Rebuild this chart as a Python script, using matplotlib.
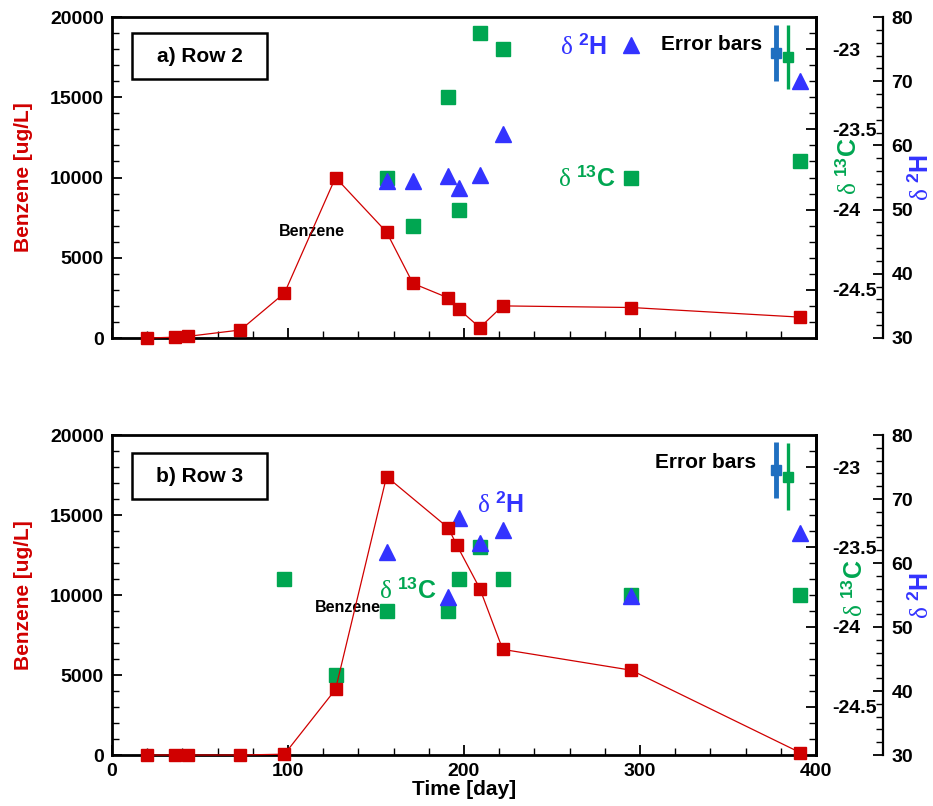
import matplotlib
matplotlib.use("Agg")
import matplotlib.pyplot as plt
from matplotlib.patches import Rectangle
from matplotlib.ticker import MultipleLocator, FormatStrFormatter

plt.rcParams['font.family'] = ['Liberation Sans', 'DejaVu Sans']
plt.rcParams['font.weight'] = 'bold'
plt.rcParams['axes.labelweight'] = 'bold'
plt.rcParams['axes.unicode_minus'] = False
plt.rcParams['mathtext.fontset'] = 'custom'
plt.rcParams['mathtext.rm'] = 'Liberation Serif:weight=normal'
plt.rcParams['mathtext.it'] = 'Liberation Serif:italic:weight=normal'
plt.rcParams['mathtext.bf'] = 'Liberation Sans:weight=bold'

# panel a) Row 2
days_benz_a = [20, 36, 43, 73, 98, 127, 156, 171, 191, 197, 209, 222, 295, 391]
benz_a = [0, 50, 100, 500, 2800, 10000, 6600, 3400, 2500, 1800, 650, 2000, 1900, 1300]
days_iso_a = [156, 171, 191, 197, 209, 222, 295, 391]
c13_a = [-23.8, -24.1, -23.3, -24.0, -22.9, -23.0, -23.8, -23.7]
h2_a = [54.5, 54.5, 55.2, 53.4, 55.4, 61.8, 75.6, 70.0]

# panel b) Row 3
days_benz_b = [20, 36, 43, 73, 98, 127, 156, 191, 196, 209, 222, 295, 391]
benz_b = [0, 0, 0, 0, 50, 4100, 17400, 14200, 13100, 10400, 6600, 5300, 150]
days_c13_b = [98, 127, 156, 191, 197, 209, 222, 295, 391]
c13_b = [-23.7, -24.3, -23.9, -23.9, -23.7, -23.5, -23.7, -23.8, -23.8]
days_h2_b = [156, 191, 197, 209, 222, 295, 391]
h2_b = [61.7, 54.7, 67.0, 63.1, 65.2, 54.8, 64.7]

# error bar glyphs: day, centre, half-width
err_day_h2, err_day_c13 = 377, 384
err_h2_a, err_h2_size_a = 74.4, 4.3
err_c13_a, err_c13_size_a = -23.05, 0.2
err_h2_b, err_h2_size_b = 74.5, 4.4
err_c13_b, err_c13_size_b = -23.06, 0.21

RED = '#d00000'
GREEN = '#00a651'
BLUE = '#3333ff'
EBLUE = '#1f6fc0'

W, H = 933, 806
fig = plt.figure(figsize=(W / 100, H / 100), dpi=100)

lbl_h2 = r'$\mathrm{\delta}\ {}^{\mathbf{2}}\mathbf{H}$'
lbl_c13 = r'$\mathrm{\delta}\ {}^{\mathbf{13}}\mathbf{C}$'


def make_panel(top, bottom, days_b, benz, days_c, c13, days_h, h2,
               eh2, eh2s, ec13, ec13s, title, box_y, texts, show_x):
    left, right = 112, 816
    ax = fig.add_axes([left / W, 1 - bottom / H, (right - left) / W, (bottom - top) / H])
    axc = ax.twinx()
    axh = ax.twinx()
    axh.spines['right'].set_position(('axes', (883 - left) / (right - left)))
    for s in ['left', 'top', 'bottom']:
        axh.spines[s].set_visible(False)
        axc.spines[s].set_visible(False)
    for s in ax.spines.values():
        s.set_linewidth(2)
    axc.spines['right'].set_linewidth(2)
    axh.spines['right'].set_linewidth(1.6)

    ax.set_xlim(0, 400)
    ax.set_ylim(0, 20000)
    axc.set_ylim(-24.8, -22.8)
    axh.set_ylim(30, 80)

    ax.xaxis.set_major_locator(MultipleLocator(100))
    ax.xaxis.set_minor_locator(MultipleLocator(20))
    ax.yaxis.set_major_locator(MultipleLocator(5000))
    ax.yaxis.set_minor_locator(MultipleLocator(1000))
    axc.yaxis.set_major_locator(MultipleLocator(0.5))
    axc.yaxis.set_minor_locator(MultipleLocator(0.1))
    axc.yaxis.set_major_formatter(FormatStrFormatter('%g'))
    axh.yaxis.set_major_locator(MultipleLocator(10))
    axh.yaxis.set_minor_locator(MultipleLocator(2))

    ax.tick_params(axis='both', which='major', direction='in', length=7, width=1.3,
                   labelsize=14, top=False, right=False, pad=6)
    ax.tick_params(axis='both', which='minor', direction='in', length=5, width=1,
                   top=False, right=False)
    ax.tick_params(axis='x', labelbottom=show_x, pad=6)
    for a in (axc, axh):
        a.tick_params(axis='y', which='major', direction='in', length=7, width=1.3,
                      labelsize=14, pad=6)
        a.tick_params(axis='y', which='minor', direction='in', length=5, width=1)
    axc.tick_params(axis='y', which='major', pad=12)

    ax.set_ylabel('Benzene [ug/L]', color=RED, fontsize=15)
    ax.yaxis.set_label_coords(-0.112, 0.5)

    # isotope markers
    axc.plot(days_c, c13, ls='none', marker='s', ms=10, color=GREEN, clip_on=False)
    axh.plot(days_h, h2, ls='none', marker='^', ms=12, color=BLUE, clip_on=False)
    # benzene line
    ax.plot(days_b, benz, '-', color=RED, lw=0.9, marker='s', ms=8, clip_on=False,
            zorder=5)
    ax.set_zorder(axh.get_zorder() + 1)
    ax.patch.set_visible(False)

    # error bar glyphs
    axh.errorbar([err_day_h2], [eh2], yerr=[eh2s], fmt='s', ms=7.5, color=EBLUE,
                 elinewidth=3.5, capsize=0)
    axc.errorbar([err_day_c13], [ec13], yerr=[ec13s], fmt='s', ms=7.5, color=GREEN,
                 elinewidth=2.4, capsize=0)

    # title box
    y0, y1 = box_y
    ax.add_patch(Rectangle(((132 - left) / 704, (bottom - y1) / (bottom - top)),
                           135 / 704, (y1 - y0) / (bottom - top),
                           transform=ax.transAxes, fill=False, lw=1.8, ec='black',
                           clip_on=False))
    ax.text((200 - left) / 704, (bottom - (y0 + y1) / 2) / (bottom - top), title,
            transform=ax.transAxes, ha='center', va='center', fontsize=15)

    def fx(x):
        return (x - left) / 704

    def fy(y):
        return (bottom - y) / (bottom - top)

    (eb, h2p, c13p, bzp) = texts
    ax.text(fx(eb[0]), fy(eb[1]), 'Error bars', transform=ax.transAxes,
            ha='center', va='center', fontsize=15)
    ax.text(fx(h2p[0]), fy(h2p[1]), lbl_h2, transform=ax.transAxes,
            ha='center', va='center', fontsize=18, color=BLUE)
    ax.text(fx(c13p[0]), fy(c13p[1]), lbl_c13, transform=ax.transAxes,
            ha='center', va='center', fontsize=18, color=GREEN)
    ax.text(fx(bzp[0]), fy(bzp[1]), 'Benzene', transform=ax.transAxes,
            ha='center', va='center', fontsize=11.5)
    return ax, fx, fy


ax_a, fxa, fya = make_panel(17, 338, days_benz_a, benz_a, days_iso_a, c13_a, days_iso_a, h2_a,
                            err_h2_a, err_h2_size_a, err_c13_a, err_c13_size_a,
                            'a) Row 2', (33, 79),
                            ((712, 45), (583, 46), (587, 178), (312, 231)), False)
ax_a.text(fxa(848), fya(166), lbl_c13, transform=ax_a.transAxes, rotation=90,
          ha='center', va='center', fontsize=18, color=GREEN)
ax_a.text(fxa(920), fya(178), lbl_h2, transform=ax_a.transAxes, rotation=90,
          ha='center', va='center', fontsize=18, color=BLUE)

ax_b, fxb, fyb = make_panel(435, 755, days_benz_b, benz_b, days_c13_b, c13_b, days_h2_b, h2_b,
                            err_h2_b, err_h2_size_b, err_c13_b, err_c13_size_b,
                            'b) Row 3', (453, 499),
                            ((706, 463), (500, 504), (408, 591), (348, 608)), True)
ax_b.text(fxb(855), fyb(588), lbl_c13, transform=ax_b.transAxes, rotation=90,
          ha='center', va='center', fontsize=18, color=GREEN)
ax_b.text(fxb(920), fyb(596), lbl_h2, transform=ax_b.transAxes, rotation=90,
          ha='center', va='center', fontsize=18, color=BLUE)
ax_b.set_xlabel('Time [day]', fontsize=15, labelpad=0)

fig.savefig('out.png', dpi=100)
